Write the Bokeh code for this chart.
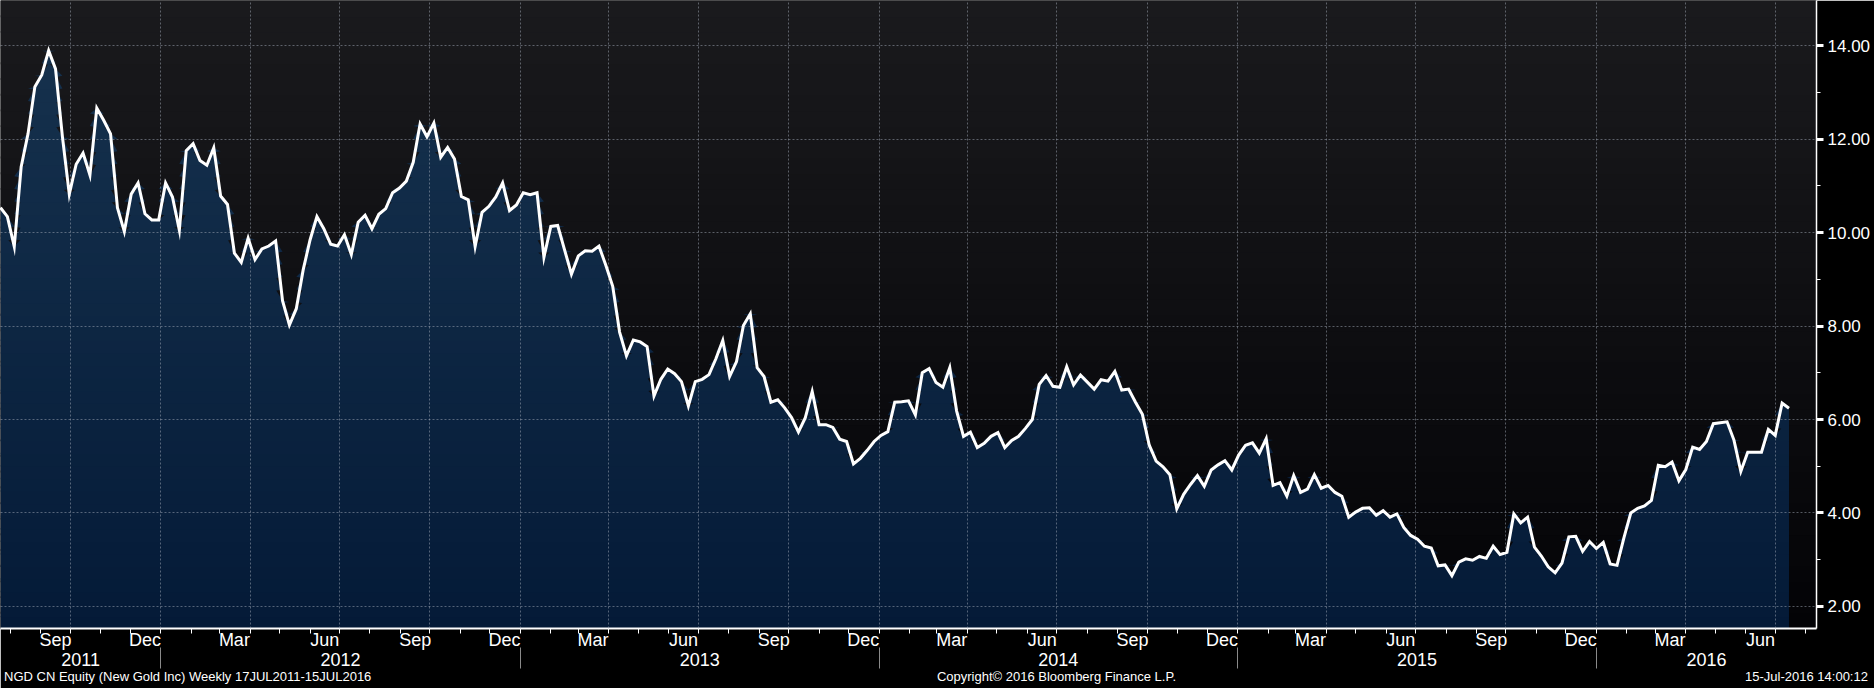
import numpy as np
import pandas as pd
from bokeh.plotting import figure
from bokeh.models import (Range1d, FixedTicker, LinearAxis, PrintfTickFormatter,
                          BoxAnnotation, Grid)
from bokeh.embed import file_html
from bokeh.resources import INLINE

# ---------------- data (weekly closes) ----------------
first_week = "2011-07-22"
prices_2011 = [10.53, 10.34, 9.70, 11.40, 12.11, 13.12, 13.37, 13.89, 13.50, 12.05,
               10.82, 11.46, 11.70, 11.23, 12.66, 12.40, 12.11, 10.53, 10.02, 10.82,
               11.06, 10.40, 10.27, 10.27]
prices_2012 = [11.06, 10.76, 10.05, 11.75, 11.90, 11.54, 11.44, 11.81, 10.78, 10.60,
               9.56, 9.36, 9.88, 9.42, 9.65, 9.71, 9.82, 8.54, 8.02, 8.37,
               9.20, 9.84, 10.34, 10.08, 9.75, 9.71, 9.95, 9.53, 10.22, 10.37,
               10.08, 10.39, 10.51, 10.85, 10.95, 11.10, 11.50, 12.32, 12.05, 12.34,
               11.61, 11.82, 11.57, 10.77, 10.70, 9.70, 10.43, 10.56, 10.76, 11.06,
               10.47, 10.59]
prices_2013 = [10.85, 10.81, 10.85, 9.47, 10.13, 10.15, 9.63, 9.11, 9.50, 9.61,
               9.60, 9.71, 9.30, 8.85, 7.87, 7.36, 7.70, 7.66, 7.56, 6.50,
               6.86, 7.08, 6.98, 6.81, 6.29, 6.81, 6.86, 6.96, 7.30, 7.69,
               6.92, 7.24, 8.01, 8.26, 7.11, 6.92, 6.37, 6.42, 6.25, 6.04,
               5.73, 6.04, 6.60, 5.89, 5.89, 5.83, 5.58, 5.53, 5.05, 5.17,
               5.34, 5.53]
prices_2014 = [5.66, 5.74, 6.37, 6.38, 6.40, 6.10, 7.00, 7.09, 6.79, 6.69,
               7.11, 6.18, 5.64, 5.73, 5.40, 5.49, 5.64, 5.72, 5.40, 5.55,
               5.64, 5.81, 6.00, 6.75, 6.94, 6.71, 6.69, 7.13, 6.74, 6.95,
               6.80, 6.65, 6.85, 6.82, 7.03, 6.63, 6.65, 6.37, 6.11, 5.45,
               5.11, 4.99, 4.82, 4.09, 4.40, 4.61, 4.80, 4.57, 4.92, 5.03,
               5.12, 4.92]
prices_2015 = [5.24, 5.45, 5.50, 5.28, 5.59, 4.59, 4.65, 4.36, 4.80, 4.44,
               4.51, 4.82, 4.53, 4.59, 4.44, 4.36, 3.91, 4.02, 4.10, 4.11,
               3.95, 4.05, 3.91, 3.98, 3.69, 3.52, 3.44, 3.29, 3.25, 2.87,
               2.89, 2.66, 2.95, 3.02, 2.99, 3.07, 3.03, 3.29, 3.11, 3.16,
               3.98, 3.79, 3.91, 3.27, 3.08, 2.85, 2.72, 2.93, 3.49, 3.50,
               3.18, 3.39]
prices_2016 = [3.24, 3.37, 2.91, 2.88, 3.47, 4.00, 4.10, 4.15, 4.27, 5.02,
               4.99, 5.09, 4.69, 4.93, 5.41, 5.36, 5.53, 5.91, 5.93, 5.95,
               5.56, 4.89, 5.30, 5.30, 5.30, 5.79, 5.66, 6.35, 6.24]

labelled_months = [(2011, 9), (2011, 12), (2012, 3), (2012, 6), (2012, 9), (2012, 12),
                   (2013, 3), (2013, 6), (2013, 9), (2013, 12), (2014, 3), (2014, 6),
                   (2014, 9), (2014, 12), (2015, 3), (2015, 6), (2015, 9), (2015, 12),
                   (2016, 3), (2016, 6)]
month_names = {3: "Mar", 6: "Jun", 9: "Sep", 12: "Dec"}
years = [2011, 2012, 2013, 2014, 2015, 2016]
year_labels = ["2011", "2012", "2013", "2014", "2015", "2016"]
y_ticks = [2, 4, 6, 8, 10, 12, 14]
y_minor_ticks = [3, 5, 7, 9, 11, 13]

footer_texts = ["NGD CN Equity (New Gold Inc)  Weekly 17JUL2011-15JUL2016",
                "Copyright\u00a9 2016 Bloomberg Finance L.P.",
                "15-Jul-2016 14:00:12"]

# ---------------- layout constants ----------------
FRAME_W, FRAME_H = 1816, 628
FONT = "Liberation Sans"
footer_centres_px = [189, 1056, 1806]   # horizontal centres of the footer texts

# ---------------- helpers ----------------
values = np.array(prices_2011 + prices_2012 + prices_2013 + prices_2014 +
                  prices_2015 + prices_2016, dtype=float)
dates = pd.date_range(first_week, periods=len(values), freq="7D")


def ms(ts):
    return float(pd.Timestamp(ts).value // 10**6)


x = np.array([ms(d) for d in dates])
x_start = ms("2011-07-22")
x_end = ms("2016-08-12")
y_start, y_end = 1.5294, 14.9626


def lerp_hex(c0, c1, t):
    a = [int(c0[i:i + 2], 16) for i in (1, 3, 5)]
    b = [int(c1[i:i + 2], 16) for i in (1, 3, 5)]
    return "#" + "".join("%02x" % int(round(a[k] + (b[k] - a[k]) * t)) for k in range(3))


p = figure(frame_width=FRAME_W, frame_height=FRAME_H,
           x_range=Range1d(x_start, x_end), y_range=Range1d(y_start, y_end),
           x_axis_type=None, y_axis_location="right",
           output_backend="svg", toolbar_location=None,
           background_fill_color="#000000", border_fill_color="#000000",
           outline_line_color=None,
           min_border_left=0, min_border_top=0, min_border_right=58,
           min_border_bottom=60)

# frame background gradient (dark grey at top to black at bottom)
n_bg = 40
bg_edges = np.linspace(y_start, y_end, n_bg + 1)
for i in range(n_bg):
    t = (0.5 * (bg_edges[i] + bg_edges[i + 1]) - y_start) / (y_end - y_start)
    p.add_layout(BoxAnnotation(bottom=bg_edges[i] - 0.02, top=bg_edges[i + 1] + 0.02,
                               fill_color=lerp_hex("#030306", "#1a1a1d", t), fill_alpha=1.0,
                               line_color=None, level="image"))

# area gradient, built from horizontal bands of the filled region
n_bands = 50
edges = np.linspace(y_start, y_end, n_bands + 1)
for i in range(n_bands):
    lo, hi = edges[i], edges[i + 1]
    if values.max() <= lo:
        break
    t = (0.5 * (lo + hi) - y_start) / (y_end - y_start)
    top = np.clip(values, lo, hi)
    bottom = np.where(values > lo, lo - 0.03, lo)
    p.varea(x=x, y1=bottom, y2=top, fill_color=lerp_hex("#041a37", "#17334f", t),
            fill_alpha=1.0, level="glyph")

p.line(x, values, line_color="white", line_width=3, line_join="miter", level="overlay")

# grids
month_bounds = [ms(d) for d in pd.date_range("2011-08-01", "2016-08-01", freq="MS")]
quarter_bounds = [ms(d) for d in pd.date_range("2011-10-01", "2016-07-01", freq="QS")]
p.add_layout(Grid(dimension=0, ticker=FixedTicker(ticks=quarter_bounds),
                  grid_line_color="#a3acba", grid_line_alpha=0.5, grid_line_dash="2 2",
                  grid_line_width=1, level="annotation"), "center")

yax = p.yaxis[0]
yax.ticker = FixedTicker(ticks=y_ticks, minor_ticks=y_minor_ticks)
yax.formatter = PrintfTickFormatter(format="%.2f")
yax.axis_line_color = "white"
yax.axis_line_width = 1.5
yax.major_tick_line_color = "white"
yax.major_tick_line_width = 3
yax.major_tick_out = 7
yax.major_tick_in = 0
yax.minor_tick_line_color = "white"
yax.minor_tick_line_width = 1
yax.minor_tick_out = 4
yax.minor_tick_in = 0
yax.major_label_standoff = 4
yax.major_label_text_color = "white"
yax.major_label_text_font = FONT
yax.major_label_text_font_size = "17px"

yg = p.ygrid[0]
yg.grid_line_color = "#a3acba"
yg.grid_line_alpha = 0.5
yg.grid_line_dash = "2 2"
yg.grid_line_width = 1
yg.level = "annotation"

# month axis (ticks at every month boundary, labels mid-month)
month_ticks = [ms(pd.Timestamp(yy, mm, 16)) for yy, mm in labelled_months]
month_ax = LinearAxis(ticker=FixedTicker(ticks=month_ticks, minor_ticks=month_bounds))
month_ax.major_label_overrides = {t: month_names[mm] for t, (yy, mm) in zip(month_ticks, labelled_months)}
month_ax.axis_line_color = "white"
month_ax.axis_line_width = 2
month_ax.major_tick_line_color = None
month_ax.major_tick_out = 0
month_ax.major_tick_in = 0
month_ax.minor_tick_line_color = "white"
month_ax.minor_tick_line_width = 1
month_ax.minor_tick_out = 5
month_ax.minor_tick_in = 0
month_ax.major_label_standoff = -4
month_ax.major_label_text_color = "white"
month_ax.major_label_text_font = FONT
month_ax.major_label_text_font_size = "18px"
p.add_layout(month_ax, "below")

# year axis (labels centred on the visible part of each year)
year_ticks = []
for yy in years:
    a = max(ms(pd.Timestamp(yy, 1, 1)), x_start)
    b = min(ms(pd.Timestamp(yy + 1, 1, 1)), x_end)
    year_ticks.append(0.5 * (a + b))
year_bounds = [ms(pd.Timestamp(yy, 1, 1)) for yy in years[1:]]
year_ax = LinearAxis(ticker=FixedTicker(ticks=year_ticks, minor_ticks=[]))
year_ax.major_label_overrides = {t: lab for t, lab in zip(year_ticks, year_labels)}
year_ax.axis_line_color = None
year_ax.major_tick_line_color = None
year_ax.minor_tick_line_color = None
year_ax.major_tick_out = 0
year_ax.major_tick_in = 0
year_ax.minor_tick_out = 0
year_ax.minor_tick_in = 0
year_ax.major_label_standoff = 0
year_ax.major_label_text_color = "white"
year_ax.major_label_text_font = FONT
year_ax.major_label_text_font_size = "18px"
p.add_layout(year_ax, "below")

# footer row (source, copyright, timestamp); its inward minor ticks draw the year separators
footer_ticks = [x_start + px / FRAME_W * (x_end - x_start) for px in footer_centres_px]
footer_ax = LinearAxis(ticker=FixedTicker(ticks=footer_ticks, minor_ticks=year_bounds))
footer_ax.major_label_overrides = {t: s for t, s in zip(footer_ticks, footer_texts)}
footer_ax.axis_line_color = None
footer_ax.major_tick_line_color = None
footer_ax.major_tick_out = 0
footer_ax.major_tick_in = 0
footer_ax.minor_tick_line_color = "#8a8a8a"
footer_ax.minor_tick_line_width = 1
footer_ax.minor_tick_out = 0
footer_ax.minor_tick_in = 21
footer_ax.major_label_standoff = 0
footer_ax.major_label_text_color = "white"
footer_ax.major_label_text_font = FONT
footer_ax.major_label_text_font_size = "13px"
p.add_layout(footer_ax, "below")

open("out.html", "w").write(file_html(p, INLINE))
